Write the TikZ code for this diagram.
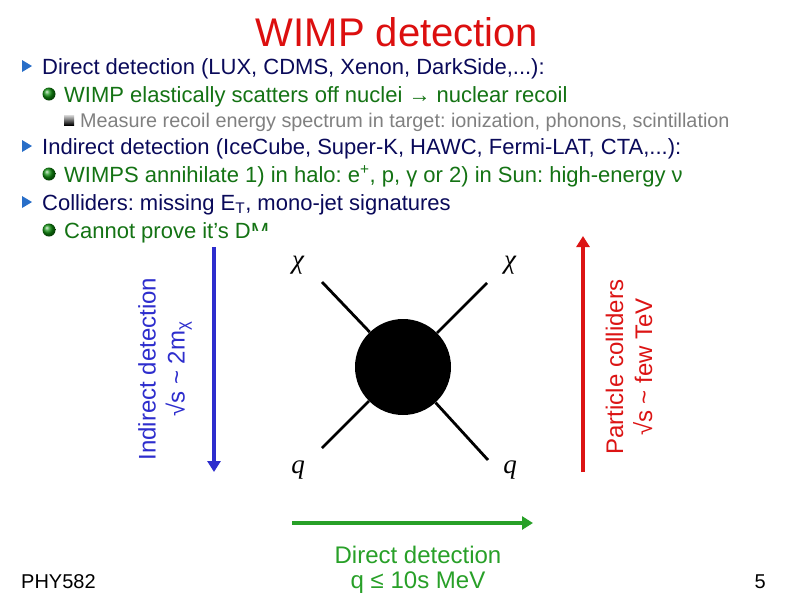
\documentclass[tikz,border=0pt]{standalone}
\usepackage{fontspec}
\setmainfont{Liberation Sans}
\newfontfamily\fserif{Liberation Serif}
\usetikzlibrary{arrows.meta,shadings}
\definecolor{navy}{RGB}{10,10,90}
\definecolor{dgreen}{RGB}{20,115,20}
\definecolor{lgray}{RGB}{128,128,128}
\definecolor{titlered}{RGB}{220,15,15}
\definecolor{indblue}{RGB}{45,45,205}
\definecolor{colred}{RGB}{220,20,20}
\definecolor{dirgreen}{RGB}{40,160,40}
\definecolor{bulblue}{RGB}{40,110,200}
\tikzset{
  lvlone/.style={anchor=base west, inner sep=0pt, text=navy, font=\fontsize{22}{26}\selectfont},
  lvltwo/.style={anchor=base west, inner sep=0pt, text=dgreen, font=\fontsize{22}{26}\selectfont},
  lvlthree/.style={anchor=base west, inner sep=0pt, text=lgray, font=\fontsize{19.8}{23}\selectfont},
  rotlabel/.style={rotate=90, align=center, inner sep=0pt, font=\fontsize{24}{29}\selectfont},
  axisarrow/.style={line width=3.2pt, -{Triangle[length=11pt,width=13pt]}},
  fline/.style={line width=2.8pt},
  flabel/.style={inner sep=0pt, font=\fserif\itshape\fontsize{27}{30}\selectfont},
  foot/.style={inner sep=0pt, font=\fontsize{20}{24}\selectfont},
  greenball/.style={ball color=dgreen!80!green},
}
\frenchspacing
\begin{document}
\begin{tikzpicture}[x=1pt,y=-1pt]
\useasboundingbox[fill=white] (0,0) rectangle (794,595);
% title
\node[anchor=base, inner sep=0pt, text=titlered, font=\fontsize{40}{44}\selectfont] (title) at (397,46) {WIMP detection};
% bullets
\fill[bulblue] (22,60) -- (32,66) -- (22,72) -- cycle;
\fill[bulblue] (22,140) -- (32,146) -- (22,152) -- cycle;
\fill[bulblue] (22,196) -- (32,202) -- (22,208) -- cycle;
\shade[greenball] (49,94) circle (6.5);
\shade[greenball] (49,174) circle (6.5);
\shade[greenball] (49,230) circle (6.5);
\shade[top color=gray!30, bottom color=black] (64,115) rectangle (74,125);
% text lines
\node[lvlone] (l1) at (42,74) {Direct detection (LUX, CDMS, Xenon, DarkSide,...):};
\node[lvltwo] (l2) at (64,102) {WIMP elastically scatters off nuclei → nuclear recoil};
\node[lvlthree] (l3) at (80,127) {Measure recoil energy spectrum in target: ionization, phonons, scintillation};
\node[lvlone] (l4) at (42,154) {Indirect detection (IceCube, Super-K, HAWC, Fermi-LAT, CTA,...):};
\node[lvltwo] (l5) at (64,182) {WIMPS annihilate 1) in halo: e\textsuperscript{+}, p, γ or 2) in Sun: high-energy ν};
\node[lvlone] (l6) at (42,210) {Colliders: missing E\textsubscript{T}, mono-jet signatures};
\node[lvltwo] (l7) at (64,238) {Cannot prove it's DM};
% picture area covering the last line
\fill[white] (252,231) rectangle (575,250);
% Feynman diagram
\node[circle, fill=black, minimum size=96pt, inner sep=0pt] (blob) at (403,367) {};
\coordinate (tl) at (322,282);
\coordinate (tr) at (487,283);
\coordinate (bl) at (322,448);
\coordinate (br) at (488,460);
\draw[fline] (tl) -- (blob);
\draw[fline] (tr) -- (blob);
\draw[fline] (bl) -- (blob);
\draw[fline] (br) -- (blob);
\node[flabel] (chione) at (298,265) {χ};
\node[flabel] (chitwo) at (510,265) {χ};
\node[flabel] (qone) at (298,470) {q};
\node[flabel] (qtwo) at (510,470) {q};
% axis arrows
\coordinate (btop) at (214,247);
\coordinate (bbot) at (214,472);
\draw[axisarrow, indblue] (btop) -- (bbot);
\coordinate (rbot) at (583,472);
\coordinate (rtop) at (583,236);
\draw[axisarrow, colred] (rbot) -- (rtop);
\coordinate (gleft) at (292,523);
\coordinate (gright) at (533,523);
\draw[axisarrow, dirgreen] (gleft) -- (gright);
% axis labels
\node[rotlabel, text=indblue] (indlab) at (165,369) {Indirect detection\\√s \textasciitilde{} 2m\textsubscript{χ}};
\node[rotlabel, text=colred] (collab) at (629,367) {Particle colliders\\√s \textasciitilde{} few TeV};
\node[anchor=base, inner sep=0pt, text=dirgreen, font=\fontsize{24}{29}\selectfont] (dirone) at (418,563) {Direct detection};
\node[anchor=base, inner sep=0pt, text=dirgreen, font=\fontsize{24}{29}\selectfont] (dirtwo) at (418,588) {q ≤ 10s MeV};
% footer
\node[foot, anchor=base west] (phy) at (21,588) {PHY582};
\node[foot, anchor=base east] (page) at (766,588) {5};
\end{tikzpicture}
\end{document}
